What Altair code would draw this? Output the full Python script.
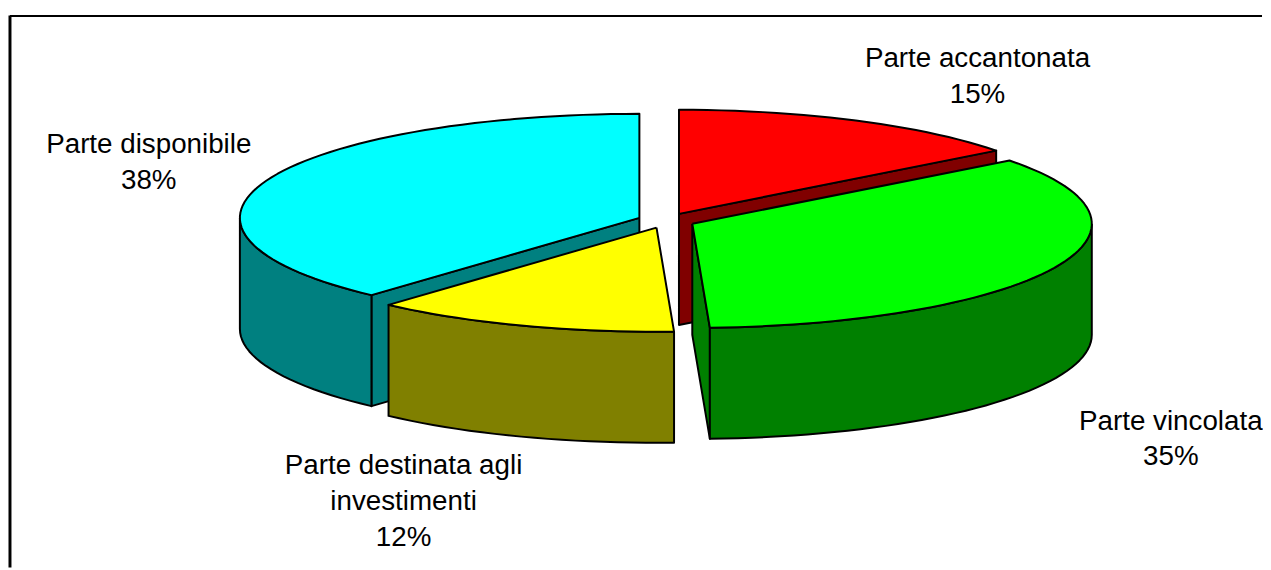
import math
import altair as alt
import pandas as pd

# --- values -----------------------------------------------------------------
names = ["Parte accantonata", "Parte vincolata",
         "Parte destinata agli\ninvestimenti", "Parte disponibile"]
shares = [14.6, 34.7, 12.4, 38.3]
percent_labels = ["15%", "35%", "12%", "38%"]

# --- styles and layout --------------------------------------------------------
top_colors = ["#FF0000", "#00FF00", "#FFFF00", "#00FFFF"]
side_colors = ["#800000", "#008000", "#808000", "#008080"]
label_x_px = [976, 1171, 397, 140]
label_y_px = [49, 415, 460, 136]
W, H = 1263, 562
RX, RY, DEPTH = 403, 105, 112      # pixel size of the pie's ellipse and wall
CX, CY = 662, 212                  # pixel position of the pie's centre
EXPLODE = 0.072
X_DOMAIN = [-CX / RX, (W - CX) / RX]
Y_DOMAIN = [(CY - H) / RY, CY / RY]
D = DEPTH / RY


def pt(cx, cy, deg, r=1.0, drop=0.0):
    t = math.radians(deg)
    return (cx + r * math.sin(t), cy + r * math.cos(t) - drop)


def arc(cx, cy, a0, a1, drop=0.0):
    n = max(2, int(abs(a1 - a0) / 2))
    return [pt(cx, cy, a0 + (a1 - a0) * i / n, drop=drop) for i in range(n + 1)]


def poly(points, fill):
    closed = list(points) + [points[0]]
    df = pd.DataFrame({"x": [p[0] for p in closed],
                       "y": [p[1] for p in closed],
                       "i": list(range(len(closed)))})
    return alt.Chart(df).mark_line(
        fill=fill, stroke="black", strokeWidth=2, strokeJoin="round", clip=True
    ).encode(
        x=alt.X("x:Q", scale=alt.Scale(domain=X_DOMAIN, nice=False, zero=False), axis=None),
        y=alt.Y("y:Q", scale=alt.Scale(domain=Y_DOMAIN, nice=False, zero=False), axis=None),
        order="i:Q",
    )


# slice angles from the shares
angles = []
acc = 0.0
for s in shares:
    angles.append((acc, acc + s * 3.6))
    acc += s * 3.6

slices = []
for (a0, a1) in angles:
    mid = (a0 + a1) / 2
    cx, cy = pt(0, 0, mid, r=EXPLODE)
    slices.append((a0, a1, cx, cy))


def top(k):
    a0, a1, cx, cy = slices[k]
    return poly([(cx, cy)] + arc(cx, cy, a0, a1), top_colors[k])


def cut(k, deg):
    _, _, cx, cy = slices[k]
    e = pt(cx, cy, deg)
    e2 = pt(cx, cy, deg, drop=D)
    return poly([(cx, cy), e, e2, (cx, cy - D)], side_colors[k])


def wall(k, a0, a1):
    _, _, cx, cy = slices[k]
    return poly(arc(cx, cy, a0, a1) + arc(cx, cy, a1, a0, drop=D), side_colors[k])


RED, GREEN, YELLOW, CYAN = 0, 1, 2, 3
layers = [
    cut(RED, slices[RED][1]), top(RED),
    cut(CYAN, slices[CYAN][0]), wall(CYAN, slices[CYAN][0], 270), top(CYAN),
    wall(YELLOW, slices[YELLOW][0], slices[YELLOW][1]), top(YELLOW),
    cut(GREEN, slices[GREEN][1]), wall(GREEN, 90, slices[GREEN][1]), top(GREEN),
]

# frame: left and top rules only
xs = alt.Scale(domain=X_DOMAIN, nice=False, zero=False)
ys = alt.Scale(domain=Y_DOMAIN, nice=False, zero=False)
frame_left = alt.Chart(pd.DataFrame({"a": [0]})).mark_rule(color="black", strokeWidth=3).encode(
    x=alt.value(0), y=alt.value(5), y2=alt.value(H))
frame_top = alt.Chart(pd.DataFrame({"a": [0]})).mark_rule(color="black", strokeWidth=2).encode(
    y=alt.value(5.5), x=alt.value(0), x2=alt.value(W))

# labels
rows = []
for name, pct, lx, ly in zip(names, percent_labels, label_x_px, label_y_px):
    rows.append({"t": name + "\n" + pct,
                 "x": (lx - CX) / RX,
                 "y": (CY - ly) / RY})
labels = alt.Chart(pd.DataFrame(rows)).mark_text(
    font="Liberation Sans", fontSize=28, lineBreak="\n", lineHeight=36,
    align="center", baseline="middle", color="black"
).encode(
    x=alt.X("x:Q", scale=xs, axis=None),
    y=alt.Y("y:Q", scale=ys, axis=None),
    text="t:N",
)

chart = alt.layer(frame_left, frame_top, *layers, labels).properties(
    width=W, height=H, padding=0, background="white"
).configure_view(stroke=None)

chart.save("out.html", embed_options={"renderer": "svg", "actions": False})
